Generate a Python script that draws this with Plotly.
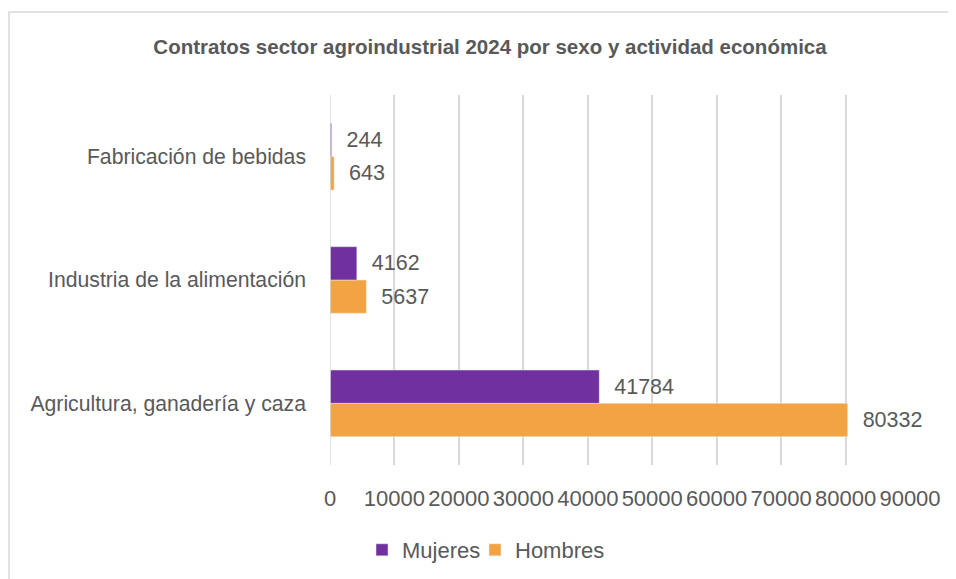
import plotly.graph_objects as go

categories = ["Agricultura, ganadería y caza", "Industria de la alimentación", "Fabricación de bebidas"]
mujeres = [41784, 4162, 244]
hombres = [80332, 5637, 643]
x_ticks = [0, 10000, 20000, 30000, 40000, 50000, 60000, 70000, 80000, 90000]

FONT = "Liberation Sans"
GREY = "#595959"
W, H = 956, 579
OFF = 8  # page body margin
ML, MR, MT, MB = 330 - OFF, 54, 95 - OFF, 122
pw = W - ML - MR
ph = H - MT - MB

fig = go.Figure()
fig.add_trace(go.Bar(
    y=categories, x=hombres, name="Hombres", orientation="h",
    marker=dict(color="#F2A444"), legend="legend2",
    text=[str(v) for v in hombres], texttemplate="\u00a0\u00a0%{text}", textposition="outside",
    textfont=dict(family=FONT, size=21.5, color=GREY), cliponaxis=False,
))
fig.add_trace(go.Bar(
    y=categories, x=mujeres, name="Mujeres", orientation="h",
    marker=dict(color="#7030A0"), legend="legend",
    text=[str(v) for v in mujeres], texttemplate="\u00a0\u00a0%{text}", textposition="outside",
    textfont=dict(family=FONT, size=21.5, color=GREY), cliponaxis=False,
))

leg_y = -(550 - OFF - (MT + ph)) / ph
leg_common = dict(orientation="h", xanchor="left", y=leg_y, yanchor="middle",
                  itemwidth=30, font=dict(family=FONT, size=22, color=GREY),
                  bgcolor="rgba(0,0,0,0)")

fig.update_layout(
    width=W, height=H,
    margin=dict(l=ML, r=MR, t=MT, b=MB),
    paper_bgcolor="white", plot_bgcolor="white",
    barmode="group", bargap=0.46, bargroupgap=0,
    title=dict(text="<b>Contratos sector agroindustrial 2024 por sexo y actividad económica</b>",
               x=(490 - OFF) / W, xanchor="center", y=1 - (47 - OFF) / H, yanchor="middle",
               font=dict(family=FONT, size=20.5, color=GREY)),
    xaxis=dict(range=[0, 90000], tickvals=x_ticks, ticktext=[str(v) for v in x_ticks],
               showgrid=True, gridcolor="#D9D9D9", gridwidth=1.5, zeroline=False,
               showline=False, ticks="", ticklabelstandoff=18,
               tickfont=dict(family=FONT, size=22, color=GREY)),
    yaxis=dict(showgrid=False, showline=False, ticks="", ticklabelstandoff=23,
               tickfont=dict(family=FONT, size=21.2, color=GREY)),
    legend=dict(x=(362 - OFF - ML) / pw, **leg_common),
    legend2=dict(x=(475 - OFF - ML) / pw, **leg_common),
    showlegend=True,
    shapes=[dict(type="rect", xref="paper", yref="paper",
                 x0=(9 - OFF - ML) / pw, x1=(W + 10 - ML) / pw,
                 y0=(MT + ph - (H + 10)) / ph, y1=(MT + ph - (12 - OFF)) / ph,
                 line=dict(color="#D9D9D9", width=1.5), fillcolor="rgba(0,0,0,0)", layer="below")],
)
fig.add_shape(type="line", xref="x", yref="paper", x0=0, x1=0, y0=0, y1=1,
              line=dict(color="#D9D9D9", width=1.5))
fig.write_html("out.html")
